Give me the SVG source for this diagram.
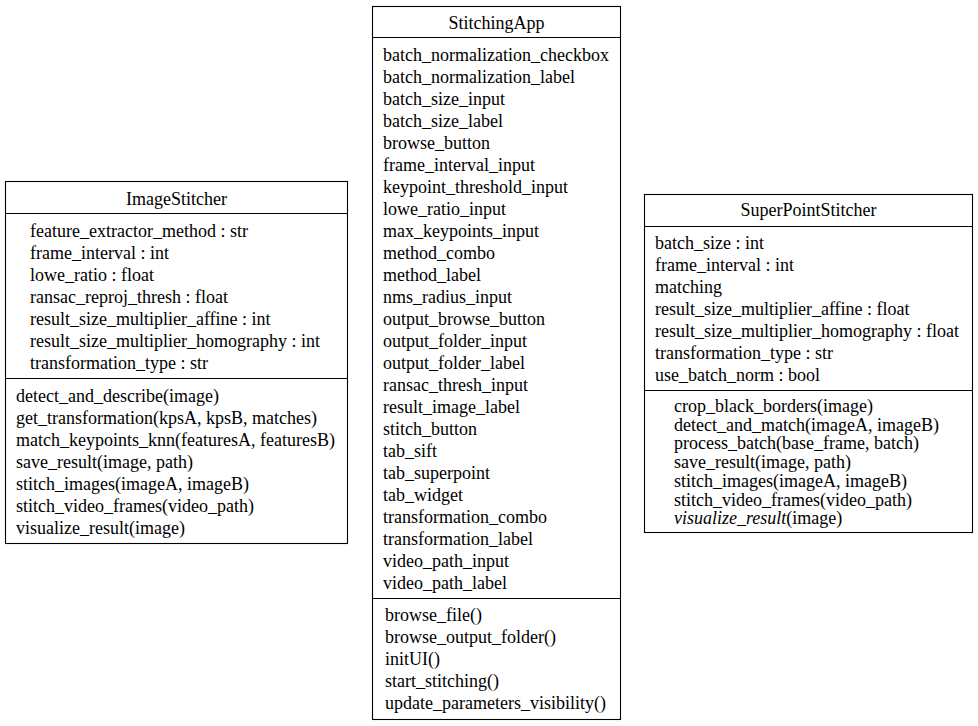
<svg xmlns="http://www.w3.org/2000/svg" width="978" height="726" viewBox="0 0 978 726">
<style>
.box{fill:#fff;stroke:#000;stroke-width:1.1}
.ln{stroke:#000;stroke-width:1.1}
text{font-family:"Liberation Serif","Times New Roman",serif;font-size:18px;fill:#000}
.c{text-anchor:middle}
.i{font-style:italic}
</style>
<rect width="978" height="726" fill="#fff"/>
<g id="connectors"></g>
<g id="ImageStitcher">
<rect class="box" x="5.5" y="181.5" width="342" height="362"/>
<line class="ln" x1="5.5" y1="213.5" x2="347.5" y2="213.5"/>
<line class="ln" x1="5.5" y1="378.5" x2="347.5" y2="378.5"/>
<text class="c" x="176.5" y="205">ImageStitcher</text>
<text x="30" y="237">feature_extractor_method : str</text>
<text x="30" y="259">frame_interval : int</text>
<text x="30" y="281">lowe_ratio : float</text>
<text x="30" y="303">ransac_reproj_thresh : float</text>
<text x="30" y="325">result_size_multiplier_affine : int</text>
<text x="30" y="347">result_size_multiplier_homography : int</text>
<text x="30" y="369">transformation_type : str</text>
<text x="16" y="402">detect_and_describe(image)</text>
<text x="16" y="424">get_transformation(kpsA, kpsB, matches)</text>
<text x="16" y="446">match_keypoints_knn(featuresA, featuresB)</text>
<text x="16" y="468">save_result(image, path)</text>
<text x="16" y="490">stitch_images(imageA, imageB)</text>
<text x="16" y="512">stitch_video_frames(video_path)</text>
<text x="16" y="534">visualize_result(image)</text>
</g>
<g id="StitchingApp">
<rect class="box" x="372.5" y="6.5" width="248" height="713"/>
<line class="ln" x1="372.5" y1="37.5" x2="620.5" y2="37.5"/>
<line class="ln" x1="372.5" y1="598.5" x2="620.5" y2="598.5"/>
<text class="c" x="496.5" y="29">StitchingApp</text>
<text x="383" y="61">batch_normalization_checkbox</text>
<text x="383" y="83">batch_normalization_label</text>
<text x="383" y="105">batch_size_input</text>
<text x="383" y="127">batch_size_label</text>
<text x="383" y="149">browse_button</text>
<text x="383" y="171">frame_interval_input</text>
<text x="383" y="193">keypoint_threshold_input</text>
<text x="383" y="215">lowe_ratio_input</text>
<text x="383" y="237">max_keypoints_input</text>
<text x="383" y="259">method_combo</text>
<text x="383" y="281">method_label</text>
<text x="383" y="303">nms_radius_input</text>
<text x="383" y="325">output_browse_button</text>
<text x="383" y="347">output_folder_input</text>
<text x="383" y="369">output_folder_label</text>
<text x="383" y="391">ransac_thresh_input</text>
<text x="383" y="413">result_image_label</text>
<text x="383" y="435">stitch_button</text>
<text x="383" y="457">tab_sift</text>
<text x="383" y="479">tab_superpoint</text>
<text x="383" y="501">tab_widget</text>
<text x="383" y="523">transformation_combo</text>
<text x="383" y="545">transformation_label</text>
<text x="383" y="567">video_path_input</text>
<text x="383" y="589">video_path_label</text>
<text x="385" y="621">browse_file()</text>
<text x="385" y="643">browse_output_folder()</text>
<text x="385" y="665">initUI()</text>
<text x="385" y="687">start_stitching()</text>
<text x="385" y="709">update_parameters_visibility()</text>
</g>
<g id="SuperPointStitcher">
<rect class="box" x="644.5" y="194.5" width="328" height="338"/>
<line class="ln" x1="644.5" y1="226.5" x2="972.5" y2="226.5"/>
<line class="ln" x1="644.5" y1="390.5" x2="972.5" y2="390.5"/>
<text class="c" x="808.5" y="216">SuperPointStitcher</text>
<text x="655" y="249">batch_size : int</text>
<text x="655" y="271">frame_interval : int</text>
<text x="655" y="293">matching</text>
<text x="655" y="315">result_size_multiplier_affine : float</text>
<text x="655" y="337">result_size_multiplier_homography : float</text>
<text x="655" y="359">transformation_type : str</text>
<text x="655" y="381">use_batch_norm : bool</text>
<text x="674" y="412">crop_black_borders(image)</text>
<text x="674" y="430.7">detect_and_match(imageA, imageB)</text>
<text x="674" y="449.4">process_batch(base_frame, batch)</text>
<text x="674" y="468.1">save_result(image, path)</text>
<text x="674" y="486.8">stitch_images(imageA, imageB)</text>
<text x="674" y="505.5">stitch_video_frames(video_path)</text>
<text x="674" y="524.2"><tspan class="i">visualize_result</tspan>(image)</text>
</g>
</svg>
